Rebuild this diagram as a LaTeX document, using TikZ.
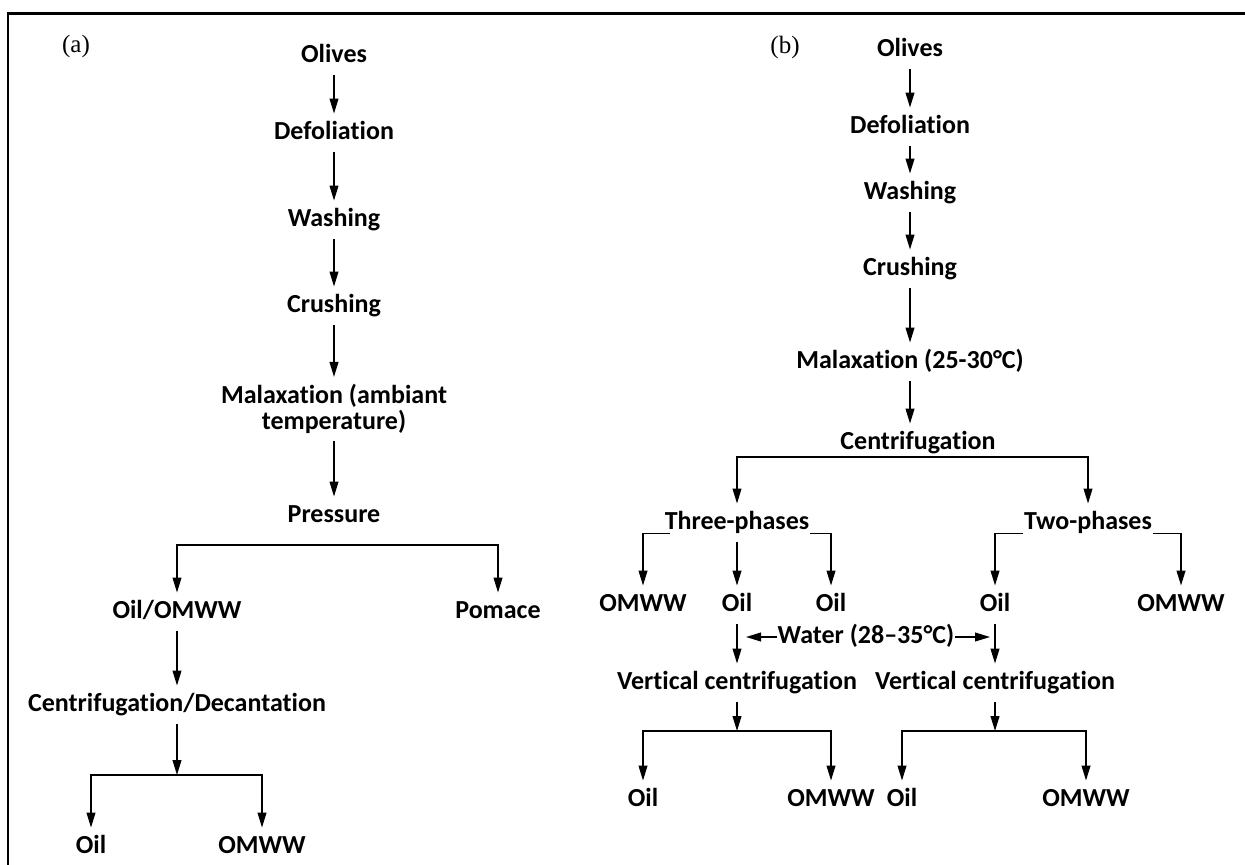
\documentclass[tikz,border=0pt]{standalone}
\usepackage{fontspec}
\setmainfont{Carlito}[Ligatures={NoCommon,NoContextual,NoRequired},Contextuals=NoAlternate]
\newfontfamily\tagfont{Liberation Serif}
\usetikzlibrary{arrows.meta}
\usetikzlibrary{positioning}

\begin{document}
\begin{tikzpicture}[x=0.5pt,y=-0.5pt,>={Triangle[length=7.5pt,width=4.4pt]},line width=0.75pt]
\tikzstyle{lbl} = [font=\fontsize{13}{11.5}\selectfont\bfseries, inner xsep=0pt, inner ysep=3.5pt]
\tikzstyle{stage} = [lbl, text height=9pt, text depth=2.7pt]
\tikzstyle{panel} = [font=\tagfont\fontsize{12.5}{14}\selectfont, inner sep=0pt]
\useasboundingbox (0,0) rectangle (1245,865);
\clip (0,0) rectangle (1245,865);
\draw[line width=1.3pt] (8,13.5) rectangle (1290,900);

% (a) pressing
\node[panel] (tagA) at (76,46) {(a)};
\node[stage] (olivesA) at (334,56) {Olives};
\node[stage] (defolA) at (334,133) {Defoliation};
\node[stage] (washA) at (334,220) {Washing};
\node[stage] (crushA) at (334,306) {Crushing};
\node[lbl, align=center] (malaxA) at (334,409) {Malaxation (ambiant\\temperature)};
\node[stage] (pressA) at (334,516) {Pressure};
\node[stage] (oilwwA) at (177,612) {Oil/OMWW};
\node[stage] (pomaceA) at (498,612) {Pomace};
\node[stage] (centdecA) at (177,705) {Centrifugation/Decantation};
\node[stage] (oilA) at (91,847) {Oil};
\node[stage] (omwwA) at (262,847) {OMWW};
\coordinate (splitA) at (334,545);
\coordinate (splitA2) at (177,775);

\draw[->] (olivesA) -- (defolA);
\draw[->] (defolA) -- (washA);
\draw[->] (washA) -- (crushA);
\draw[->] (crushA) -- (malaxA);
\draw[->] (malaxA) -- (pressA);
\draw[->] (splitA) -| (oilwwA);
\draw[->] (splitA) -| (pomaceA);
\draw[->] (oilwwA) -- (centdecA);
\draw[->] (centdecA) -- (splitA2);
\draw[->] (splitA2) -| (oilA);
\draw[->] (splitA2) -| (omwwA);

% (b) centrifugation
\node[panel] (tagB) at (785,47) {(b)};
\node[stage] (olivesB) at (910,50) {Olives};
\node[stage] (defolB) at (910,127) {Defoliation};
\node[stage] (washB) at (910,193) {Washing};
\node[stage] (crushB) at (910,269) {Crushing};
\node[stage] (malaxB) at (910,362) {Malaxation (25-30°C)};
\node[stage] (centB) at (918,443) {Centrifugation};
\node[stage] (threeB) at (737,523) {Three-phases};
\node[stage] (twoB) at (1088,523) {Two-phases};
\node[stage] (omwwB) at (643,605) {OMWW};
\node[stage] (oilB) at (737,605) {Oil};
\node[stage] (oilB2) at (831,605) {Oil};
\node[stage] (oilB3) at (995,605) {Oil};
\node[stage] (omwwB2) at (1181,605) {OMWW};
\node[stage] (water) at (866,637) {Water (28–35°C)};
\node[stage] (vcentA) at (737,683) {Vertical centrifugation};
\node[stage] (vcentB) at (995,683) {Vertical centrifugation};
\node[stage] (oilC) at (643,800) {Oil};
\node[stage] (omwwC) at (831,800) {OMWW};
\node[stage] (oilD) at (902,800) {Oil};
\node[stage] (omwwD) at (1086,800) {OMWW};
\coordinate (splitB) at (910,457);
\coordinate (splitC) at (737,731);
\coordinate (splitD) at (995,731);

\draw[->] (olivesB) -- (defolB);
\draw[->] (defolB) -- (washB);
\draw[->] (washB) -- (crushB);
\draw[->] (crushB) -- (malaxB);
\draw[->] (malaxB.south -| olivesB) -- (centB.north -| olivesB);
\draw[->] (splitB) -| (threeB);
\draw[->] (splitB) -| (twoB);
\draw[->] ([xshift=3pt,yshift=-2pt]threeB.base west) -| (omwwB);
\draw[->] (threeB) -- (oilB);
\draw[->] ([yshift=-2pt]threeB.base east) -| (oilB2);
\draw[->] ([yshift=-2pt]twoB.base west) -| (oilB3);
\draw[->] ([yshift=-2pt]twoB.base east) -| (omwwB2);
\draw[->,shorten >=4.5pt] (water.west) -- (water.west -| oilB);
\draw[->,shorten >=2.5pt] (water.east) -- (water.east -| oilB3);
\draw[->] (oilB) -- (vcentA);
\draw[->] (oilB3) -- (vcentB);
\draw[->] (vcentA) -- (splitC);
\draw[->] (splitC) -| (oilC);
\draw[->] (splitC) -| (omwwC);
\draw[->] (vcentB) -- (splitD);
\draw[->] (splitD) -| (oilD);
\draw[->] (splitD) -| (omwwD);
\end{tikzpicture}
\end{document}
